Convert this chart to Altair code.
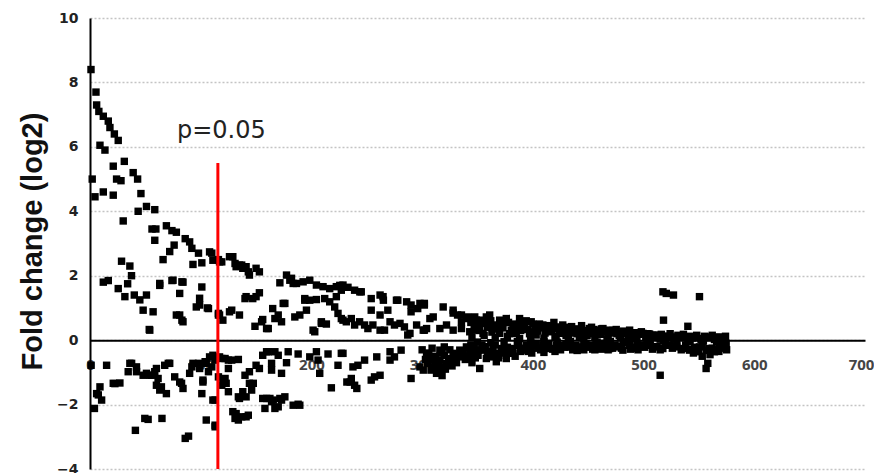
import altair as alt
import pandas as pd

# ---- data: (rank, log2 fold change) ----
early_up = [(0.9,8.4),(5.4,7.7),(6,7.3),(8,7.1),(12,6.95),(16.5,6.8),(18,6.6),(22,6.4),(25.5,6.2),(9,6.05),
    (13.5,5.9),(31,5.55),(21,5.4),(39,5.2),(24,5.0),(28,4.95),(2,5.0),(43,5.0),(4.5,4.45),(12,4.6),(21,4.5),
    (46,4.55),(30,3.7),(43.5,4.0),(51,4.15),(58.5,4.05),(56,3.45),(59.5,3.45),(58.5,3.1),(69,3.55),(74,3.4),
    (78,3.35),(76,2.95),(72,2.75),(66,2.5),(86,3.15),(90,3.05),(92,2.85),(98,2.7),(93,2.35),(101,2.4),(110,2.7),
    (116,2.5),(28.5,2.45),(36,2.3),(37.5,2.0),(12,1.8),(16.5,1.85),(25.5,1.6),(34,1.75),(31.5,1.35),(40,1.4),
    (45,1.25),(51,1.4),(63,1.7),(74,1.85),(81,1.45),(84,1.8),(101,1.65),(99,1.3),(48,0.93),(57,0.88),(54,0.31),
    (81,0.78),(84,0.57),(96,1.03),(106,1.0),(116,0.78),(108,2.74),(111,2.48),(117,2.43),(99,1.09),(107,0.98),
    (116,0.83),(75,1.86),(83,1.81),(78,0.78),(83,0.62),(63,1.76),(53.5,0.33)]
early_down = [(1,-0.78),(15,-0.78),(22.5,-1.35),(27,-1.33),(7.5,-1.7),(10.5,-1.86),(4,-2.12),(36,-0.72),
    (34.5,-0.98),(42,-0.98),(48,-1.09),(54,-1.09),(58.5,-0.98),(61.5,-1.19),(60,-0.88),(67.5,-0.78),(72,-0.72),
    (64.5,-1.45),(69,-1.66),(76.5,-1.14),(81,-1.3),(84,-1.5),(92,-0.83),(90,-1.03),(98,-0.72),(104,-0.67),
    (108,-0.52),(113,-0.62),(102,-1.3),(101,-1.66),(111,-1.86),(49.5,-2.43),(52.5,-2.46),(65,-2.43),(41,-2.8),
    (86,-3.05),(89,-2.98),(105,-2.48),(113,-2.64),(9,-1.45),(6,-1.66),(21,-1.34),(37.6,-0.72),(42,-0.83),
    (51,-1.03),(55.7,-1.09),(60,-1.4),(63,-1.55),(70.7,-0.72),(82.7,-1.34),(93,-0.72),(99,-0.88),(102,-1.24),
    (105,-0.72),(111,-0.47),(107,-0.98),(110,-0.83),(117,-0.52),(116,-1.14),(119,-1.4)]
mid_up = [(119,2.43),(129,2.59),(131,2.38),(137,2.33),(138,2.23),(144,2.02),(150,2.23),(153,2.12),(126,2.59),
    (132,2.28),(135,2.33),(141,2.28),(143,2.12),(140,1.29),(147,1.29),(153,1.47),(141,1.35),(150,1.35),
    (128,0.93),(135,0.78),(117,0.78),(120,0.62),(126,0.88),(149,0.43),(156,0.64),(155,0.57),(159.5,0.36),
    (161,0.36),(165,0.98),(167,0.67),(170,0.78),(173,0.57),(176,1.14),(174.5,1.14),(171.5,1.78),(177.5,2.02),
    (180.5,1.86),(182,1.92),(183.5,1.76),(186.5,1.76),(192.5,1.81),(198.5,1.86),(204.5,1.71),(210.5,1.66),
    (216.5,1.60),(222.5,1.66),(225.6,1.7),(227,1.55),(194,1.29),(198.5,1.24),(204.5,1.26),(212,1.29),
    (216.5,1.19),(222.5,1.35),(185,0.72),(189.5,0.78),(195.5,0.93),(209,0.52),(213.5,0.50),(203,0.26),
    (201.5,0.31),(221,1.03),(224,0.83),(228.5,0.62),(194,1.24),(209,0.57)]
mid_down = [(122,-0.57),(125,-0.62),(134,-0.6),(125,-0.88),(122,-1.19),(123,-1.34),(125,-1.6),(113,-1.86),
    (113,-2.69),(140,-1.09),(144,-0.98),(150,-0.78),(153,-0.88),(156,-0.47),(161,-0.36),(167,-0.36),(164,-0.72),
    (164,-0.93),(173,-1.03),(177.5,-0.7),(179,-0.36),(188,-0.43),(198.5,-0.52),(204.5,-0.36),(206,-0.62),
    (207.5,-1.03),(215,-0.43),(224,-0.78),(227,-0.41),(144,-1.34),(138,-1.6),(141,-1.76),(146,-1.55),
    (135,-1.81),(156,-1.81),(158,-2.12),(164,-1.91),(167,-2.12),(173,-1.86),(170,-2.07),(188,-1.99),
    (189.5,-2.02),(218,-1.48),(232,-1.3),(132,-2.28),(131,-2.43),(137,-2.38),(141,-2.38),(143,-2.33),
    (134,-2.48),(129,-2.22),(119,-0.57),(128,-0.62),(134,-1.76),(147.5,-1.34),(159.5,-0.36),(170,-0.47),
    (159.5,-1.81),(162.5,-1.81),(165.5,-1.86),(171.5,-1.81),(176,-1.76),(183.5,-2.02),(120,-1.3),(235,-1.3),
    (241,-1.5)]
late_up = [(228.5,1.71),(233,1.64),(239,1.55),(245,1.5),(243.7,1.5),(254,1.29),(262,1.4),(264.7,1.35),
    (265,1.24),(276.8,1.24),(278,1.24),(286,1.19),(290,1.09),(298,1.14),(302,1.09),(302,1.14),(319,1.03),
    (328,0.93),(332,0.78),(335.5,0.57),(341,0.72),(346,0.67),(254,0.93),(262,0.78),(269,0.93),(290,0.88),
    (296,0.98),(307,0.67),(310,0.72),(227,0.67),(231.5,0.57),(236,0.67),(239,0.47),(243.5,0.57),(248,0.47),
    (251,0.36),(255.5,0.47),(262,0.31),(266,0.31),(271,0.57),(275,0.47),(280,0.52),(284,0.41),(289,0.21),
    (295,0.47),(302,0.31),(316,0.36),(322,0.47),(328,0.31),(335.5,0.36),(343,0.26),(349,0.36),(328,0.84),
    (335.5,0.78),(340,0.67),(301,0.31),(304,0.36),(287,0.16)]
late_down = [(228.5,-0.41),(237.5,-0.83),(242,-0.78),(248,-0.62),(259,-0.52),(271,-0.36),(275,-0.52),
    (281,-0.31),(271,-0.62),(236,-1.19),(239,-1.4),(254,-1.24),(257,-1.14),(262,-1.09),(290,-1.19),(301,-0.93),
    (305,-0.72),(310,-0.52),(316,-0.31),(320,-0.21),(311,-0.83),(314,-0.98),(319,-0.88),(328,-0.41),(334,-0.31),
    (340,-0.21),(343,-0.41),(347,-0.26),(304,-0.47),(307,-0.62),(298,-0.83),(313,-1.03),(316,-0.83),(322,-0.72),
    (335.5,-0.52),(316,-0.62),(320,-0.47),(324,-0.57),(312,-0.72),(308,-0.93),(326,-0.62),(330,-0.5),(318,-1.1),
    (300,-0.3),(303,-0.6),(306,-0.4),(309,-0.25),(312,-0.5),(315,-0.7),(318,-0.4),(321,-0.9),(325,-0.3),
    (327,-0.8),(331,-0.7),(333,-0.45),(337,-0.35),(339,-0.6),(342,-0.5),(345,-0.7),(344,-0.15)]
dense_up = [(347.5,0.72),(356.5,0.52),(361,0.78),(365.5,0.36),(371.5,0.52),(376,0.67),(380.5,0.31),(388,0.67),
    (392.5,0.52),(398.5,0.57),(403,0.41),(409,0.47),(415,0.26),(421,0.41),(427,0.47),(433,0.31),(439,0.31),
    (445,0.26),(451,0.36),(457,0.31),(463,0.26),(349,0.31),(355,0.21),(370,0.21),(385,0.21),(403,0.16),
    (421,0.1),(442,0.1),(349,0.62),(358,0.72),(364,0.47),(370,0.62),(382,0.41),(388,0.52),(400,0.26),(412,0.36),
    (424,0.21),(436,0.26),(344,0.55),(350,0.45),(353,0.62),(359,0.4),(362,0.6),(368,0.45),(373,0.38),(378,0.55),
    (383,0.42),(387,0.35),(391,0.45),(395,0.33),(400,0.5),(404,0.28),(408,0.38),(413,0.45),(417,0.3),(423,0.36),
    (428,0.25),(431,0.4),(437,0.22),(441,0.35),(447,0.3),(452,0.2),(455,0.33),(461,0.18),(466,0.28),(470,0.22),
    (474,0.25),(478,0.15),(484,0.2),(489,0.13),(496,0.18),(502,0.1),(508,0.15),(514,0.08),(522,0.12),(527,0.06),
    (533,0.1),(544,0.07),(552,0.05),(560,0.08),(566,0.05),(571,0.04),(345,0.1),(356,0.15),(366,0.08),(377,0.12),
    (388,0.05),(398,0.1),(410,0.06),(420,0.12),(432,0.05),(444,0.08),(456,0.1),(467,0.04),(479,0.07),(491,0.05),
    (503,0.06),(515,0.03),(528,0.04),(540,0.03),(552,0.02),(564,0.02),
    (347,0.45),(352,0.3),(358,0.55),(363,0.25),(369,0.35),(374,0.55),(379,0.2),(384,0.5),(389,0.3),(394,0.6),
    (397,0.2),(402,0.35),(406,0.5),(411,0.22),(416,0.4),(419,0.55),(426,0.32),(430,0.15),(435,0.42),(440,0.2),
    (444,0.45),(449,0.15),(453,0.4),(458,0.22),(462,0.35),(468,0.14),(472,0.3),(476,0.2),(482,0.28),(486,0.12),
    (492,0.22),(498,0.26),(504,0.2),(510,0.12),(516,0.18),(524,0.2),(531,0.15),(536,0.18),(542,0.12),(548,0.15),
    (555,0.12),(562,0.15),(568,0.1),(574,0.12)]
dense_down = [(346,-0.21),(350.5,-0.47),(356.5,-0.31),(362.5,-0.52),(367,-0.41),(371.5,-0.26),(376,-0.47),
    (380.5,-0.26),(386.5,-0.16),(392.5,-0.31),(398.5,-0.21),(403,-0.1),(409,-0.16),(415,-0.26),(421,-0.16),
    (427,-0.16),(433,-0.21),(439,-0.16),(445,-0.21),(451,-0.16),(457,-0.1),(463,-0.1),(352,-0.88),(358,-0.57),
    (364,-0.47),(376,-0.57),(382,-0.41),(367,-0.67),(346,-0.4),(351,-0.3),(357,-0.2),(361,-0.35),(366,-0.15),
    (372,-0.4),(377,-0.22),(382,-0.33),(387,-0.1),(391,-0.25),(396,-0.35),(402,-0.18),(407,-0.3),(412,-0.12),
    (418,-0.28),(424,-0.22),(430,-0.12),(436,-0.3),(442,-0.25),(448,-0.1),(454,-0.28),(460,-0.2),(466,-0.12),
    (472,-0.25),(478,-0.18),(485,-0.08),(492,-0.22),(498,-0.15),(505,-0.1),(512,-0.2),(520,-0.12),(530,-0.18),
    (538,-0.15),(546,-0.22),(553,-0.12),(562,-0.25),(570,-0.15),(350,-0.06),(362,-0.08),(374,-0.05),(386,-0.04),
    (398,-0.07),(410,-0.05),(422,-0.06),(434,-0.04),(446,-0.05),(458,-0.06),(470,-0.04),(482,-0.05),(494,-0.03),
    (506,-0.04),(518,-0.03),(530,-0.05),(542,-0.04),(554,-0.03),(566,-0.04),
    (348,-0.55),(354,-0.15),(359,-0.42),(364,-0.25),(369,-0.55),(374,-0.3),(379,-0.38),(384,-0.5),(389,-0.35),
    (394,-0.15),(399,-0.4),(405,-0.25),(410,-0.38),(414,-0.1),(420,-0.35),(425,-0.3),(429,-0.22),(435,-0.18),
    (440,-0.32),(446,-0.3),(450,-0.22),(456,-0.3),(462,-0.28),(468,-0.3),(474,-0.15),(480,-0.25),(488,-0.28),
    (495,-0.3),(501,-0.22),(508,-0.28),(515,-0.3),(526,-0.25),(534,-0.3),(542,-0.28),(550,-0.3),(557,-0.32),
    (565,-0.3),(572,-0.25)]
tail = [(463.3,0.36),(469.3,0.31),(475.3,0.33),(481.3,0.26),(487.4,0.31),(493.4,0.23),(499.4,0.21),(505.4,0.19),
    (511.5,0.16),(520.5,0.12),(529.5,0.10),(538.5,0.08),(547.6,0.08),(556.6,0.10),(565.6,0.08),(573,0.05),
    (463.3,-0.16),(469.3,-0.26),(475.3,-0.21),(481.3,-0.31),(487.4,-0.16),(493.4,-0.26),(499.4,-0.16),
    (505.4,-0.16),(511.5,-0.21),(517.4,-0.26),(523.5,-0.16),(529.5,-0.21),(535.5,-0.26),(541.5,-0.31),
    (547.6,-0.36),(550.5,-0.21),(559.6,-0.26),(564,-0.36),(568.6,-0.21),(573,-0.16),(574.6,-0.1),
    (553,-0.5),(560,-0.45),(568,-0.35),(575,-0.3),(545,-0.4),
    (517.5,1.5),(520.5,1.45),(527,1.4),(550.5,1.35),(518,0.62),(540,0.43),(515,-1.09),(558,-0.72),(556.5,-0.88)]

x_ticks = [0, 100, 200, 300, 400, 500, 600, 700]
y_ticks = [-4, -2, 0, 2, 4, 6, 8, 10]
cutoff_rank = [115.5]
cutoff_top = [5.5]
note_text = ["p=0.05"]
note_pos = [78.5, 6.27]

all_pts = early_up + early_down + mid_up + mid_down + late_up + late_down + dense_up + dense_down + tail
pts = pd.DataFrame(all_pts, columns=["rank", "fc"])
rule_df = pd.DataFrame({"rank": cutoff_rank, "fc": [y_ticks[0]], "fc2": cutoff_top})
text_df = pd.DataFrame({"rank": [note_pos[0]], "fc": [note_pos[1]], "label": note_text})

x_scale = alt.Scale(domain=[x_ticks[0], x_ticks[-1]], nice=False, zero=False)
y_scale = alt.Scale(domain=[y_ticks[0], y_ticks[-1]], nice=False, zero=False)
H = 451
zero_offset = -(0 - y_ticks[0]) / (y_ticks[-1] - y_ticks[0]) * H

x_axis = alt.Axis(values=x_ticks, title=None, grid=False, ticks=False, domain=True,
                  domainColor="black", domainWidth=2, offset=zero_offset, labelPadding=17,
                  labelFont="Open Sans", labelFontWeight="bold", labelFontSize=15,
                  labelColor="#444444", labelFlush=False, labelOverlap=False, zindex=0,
                  labelOffset=alt.ExprRef(expr="datum.value == 700 ? -4 : 0"))
y_axis = alt.Axis(values=y_ticks, title="Fold change (log2)", grid=True, gridColor="#c4c4c4",
                  gridDash=[2, 2], gridWidth=1.5, ticks=False, tickSize=0, domainColor="black",
                  domainWidth=2, labelPadding=12, labelFont="DejaVu Sans", labelFontWeight="bold",
                  labelFontSize=14, labelColor="#222222", labelFlush=False,
                  titleFont="Liberation Sans", titleFontWeight="bold", titleFontSize=29,
                  titleColor="#111111", titleAngle=270, titleAlign="center", titleBaseline="bottom",
                  titleX=-43, titleY=223, zindex=0)

def X(f):
    return alt.X(f, type="quantitative", scale=x_scale, axis=x_axis)

def Y(f):
    return alt.Y(f, type="quantitative", scale=y_scale, axis=y_axis)

points = alt.Chart(pts).mark_square(size=55, color="black", opacity=1).encode(x=X("rank"), y=Y("fc"))
rule = alt.Chart(rule_df).mark_rule(color="#ff0000", strokeWidth=3).encode(
    x=X("rank"), y=Y("fc"), y2="fc2")
note = alt.Chart(text_df).mark_text(align="left", baseline="alphabetic", font="DejaVu Sans",
                                    fontSize=24, color="#222222").encode(
    x=X("rank"), y=Y("fc"), text="label")

chart = alt.layer(points, rule, note).properties(
    width=775, height=H,
    padding={"left": 82, "top": 10, "right": 9, "bottom": 4},
    autosize=alt.AutoSizeParams(type="none"),
    background="white",
).configure_view(stroke=None)

chart.save("out.html", embed_options={"renderer": "svg", "actions": False})
